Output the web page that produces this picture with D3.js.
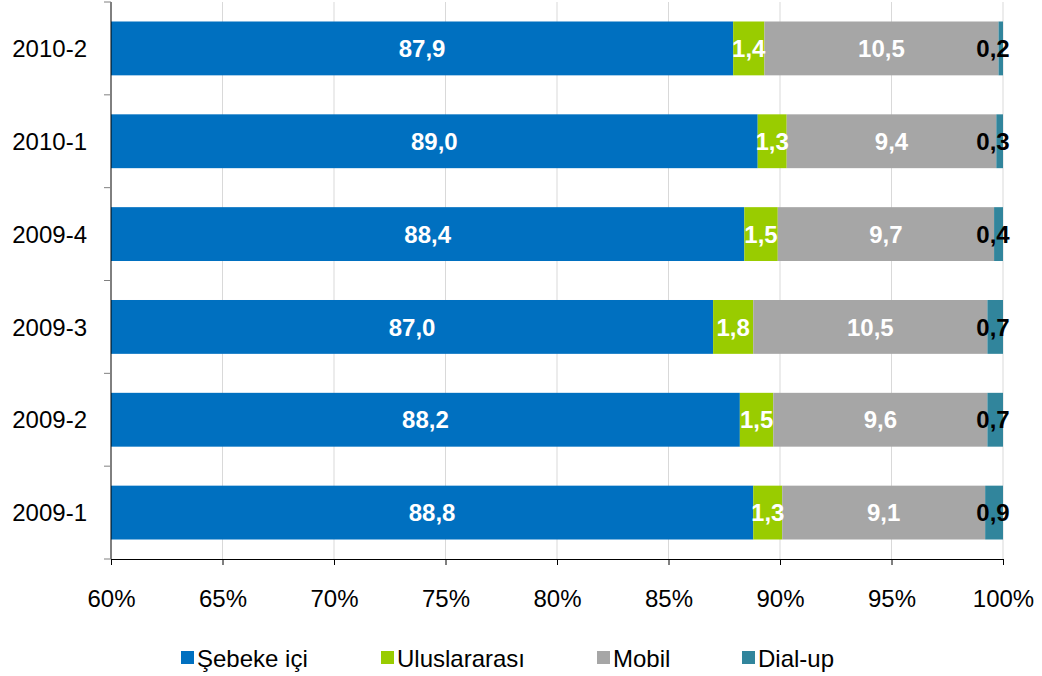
<!DOCTYPE html>
<html lang="tr">
<head>
<meta charset="UTF-8">
<title>Trafik dağılımı</title>
<style>
    body { margin: 0; background: #fff; }
    svg text { font-family: "Liberation Sans", Arial, sans-serif; }
</style>
</head>
<body>
<div id="chart"></div>
<script src="https://d3js.org/d3.v7.min.js"></script>
<script>
// data (top to bottom)
const periods       = ["2010-2", "2010-1", "2009-4", "2009-3", "2009-2", "2009-1"];
const series        = ["Şebeke içi", "Uluslararası", "Mobil", "Dial-up"];
const sebekeIci     = [87.9, 89.0, 88.4, 87.0, 88.2, 88.8];
const uluslararasi  = [1.4, 1.3, 1.5, 1.8, 1.5, 1.3];
const mobil         = [10.5, 9.4, 9.7, 10.5, 9.6, 9.1];
const dialUp        = [0.2, 0.3, 0.4, 0.7, 0.7, 0.9];
const xTicks        = [60, 65, 70, 75, 80, 85, 90, 95, 100];
const colors        = ["#0070c0", "#99cc00", "#a6a6a6", "#31859c"];

const rows = periods.map((p, i) => ({
    period: p,
    "Şebeke içi": sebekeIci[i],
    "Uluslararası": uluslararasi[i],
    "Mobil": mobil[i],
    "Dial-up": dialUp[i]
}));

const width = 1042, height = 676;
const margin = {top: 2, right: 39, bottom: 117, left: 111};
const innerW = width - margin.left - margin.right;
const innerH = height - margin.top - margin.bottom;
const fontSize = 24;

const svg = d3.select("#chart").append("svg")
    .attr("width", width).attr("height", height);

const g = svg.append("g").attr("transform", `translate(${margin.left},${margin.top})`);

const x = d3.scaleLinear().domain([60, 100]).range([0, innerW]);
const y = d3.scaleBand().domain(periods).range([0, innerH]).paddingInner(0.42).paddingOuter(0.21);
const color = d3.scaleOrdinal().domain(series).range(colors);

// gridlines
g.append("g").selectAll("line")
    .data(xTicks.slice(1))
    .join("line")
    .attr("x1", d => x(d)).attr("x2", d => x(d))
    .attr("y1", 0).attr("y2", innerH)
    .attr("stroke", "#d9d9d9").attr("stroke-width", 1);

svg.append("defs").append("clipPath").attr("id", "plot")
    .append("rect").attr("width", innerW).attr("height", innerH);

const stacked = d3.stack().keys(series)(rows);

const layers = g.append("g").attr("clip-path", "url(#plot)")
    .selectAll("g")
    .data(stacked)
    .join("g")
    .attr("fill", d => color(d.key));

layers.selectAll("rect")
    .data(d => d)
    .join("rect")
    .attr("x", d => x(Math.max(d[0], 60)))
    .attr("y", d => y(d.data.period))
    .attr("width", d => x(Math.min(d[1], 100)) - x(Math.max(d[0], 60)))
    .attr("height", y.bandwidth());

// value labels
const fmt = v => v.toFixed(1).replace(".", ",");
const labels = g.append("g");
stacked.forEach(layer => {
    layer.forEach(d => {
        const x0 = x(Math.max(d[0], 60)), x1 = x(Math.min(d[1], 100));
        let cx = (x0 + x1) / 2;
        const last = layer.key === "Dial-up";
        if (last) cx = Math.min(cx, innerW - 10);
        labels.append("text")
            .attr("x", cx)
            .attr("y", y(d.data.period) + y.bandwidth() / 2)
            .attr("dy", "0.36em")
            .attr("text-anchor", "middle")
            .attr("font-size", fontSize)
            .attr("font-weight", "bold")
            .attr("fill", last ? "#000" : "#fff")
            .text(fmt(d[1] - d[0]));
    });
});

// y axis
const yAxis = g.append("g");
yAxis.append("line")
    .attr("x1", 0).attr("x2", 0).attr("y1", 0).attr("y2", innerH)
    .attr("stroke", "#000");
const boundaries = d3.range(periods.length + 1).map(i => i * innerH / periods.length);
yAxis.selectAll(".tk").data(boundaries).join("line")
    .attr("x1", -7).attr("x2", 0)
    .attr("y1", d => d).attr("y2", d => d)
    .attr("stroke", "#808080");
yAxis.selectAll("text").data(periods).join("text")
    .attr("x", -24)
    .attr("y", d => y(d) + y.bandwidth() / 2)
    .attr("dy", "0.36em")
    .attr("text-anchor", "end")
    .attr("font-size", fontSize)
    .attr("fill", "#000")
    .text(d => d);

// x axis
const xAxis = g.append("g")
    .attr("transform", `translate(0,${innerH})`)
    .call(d3.axisBottom(x).tickValues(xTicks).tickSize(6).tickFormat(d => d + "%"));
xAxis.select(".domain").attr("stroke", "#000");
xAxis.selectAll(".tick line").attr("stroke", "#000");
xAxis.selectAll(".tick text")
    .attr("font-size", fontSize)
    .attr("fill", "#000")
    .attr("y", 31)
    .attr("font-family", "Liberation Sans, Arial, sans-serif");

// legend
const legendX = [181, 381, 597, 742];
const legend = svg.append("g").attr("transform", "translate(0,651)");
series.forEach((s, i) => {
    legend.append("rect")
        .attr("x", legendX[i]).attr("y", 0)
        .attr("width", 13).attr("height", 13)
        .attr("fill", colors[i]);
    legend.append("text")
        .attr("x", legendX[i] + 16).attr("y", 7)
        .attr("dy", "0.36em")
        .attr("font-size", fontSize)
        .attr("fill", "#000")
        .text(s);
});
</script>
</body>
</html>
